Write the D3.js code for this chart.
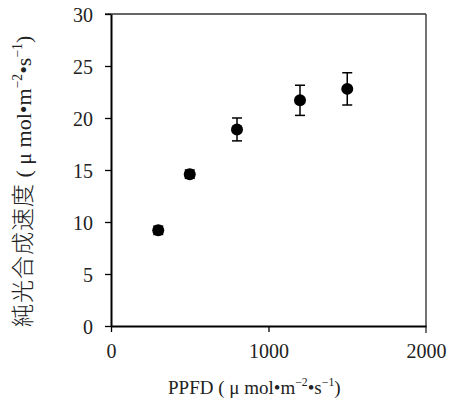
<!DOCTYPE html>
<html>
<head>
<meta charset="utf-8">
<script src="https://cdn.jsdelivr.net/npm/d3@7"></script>
<style>
  body { margin: 0; background: #fff; }
  text { font-family: "Liberation Serif", "DejaVu Serif", "Noto Sans CJK JP", serif; fill: #222; }
</style>
</head>
<body>
<div id="chart"></div>
<script>
// PPFD (x) vs net photosynthesis rate (y), mean with error bars
const ppfd = [300, 500, 800, 1200, 1500];
const rate = [9.2, 14.6, 18.9, 21.7, 22.8];
const err = [0.4, 0.4, 1.1, 1.45, 1.55];
const xTicks = [0, 1000, 2000];
const yTicks = [0, 5, 10, 15, 20, 25, 30];

const W = 449, H = 409;
const margin = { top: 14, right: 23, bottom: 83, left: 111 };

const svg = d3.select("#chart").append("svg")
  .attr("width", W).attr("height", H);

const x = d3.scaleLinear().domain([0, 2000]).range([margin.left, W - margin.right]);
const y = d3.scaleLinear().domain([0, 30]).range([H - margin.bottom, margin.top]);

// frame: top and right (gray)
svg.append("line")
  .attr("x1", x(0) - 6).attr("x2", x(2000))
  .attr("y1", y(30)).attr("y2", y(30))
  .attr("stroke", "#333").attr("stroke-width", 1.5);
svg.append("line")
  .attr("x1", x(2000)).attr("x2", x(2000))
  .attr("y1", y(30)).attr("y2", y(0) + 7)
  .attr("stroke", "#444").attr("stroke-width", 1.5);

// y axis
const yAxis = svg.append("g")
  .attr("transform", "translate(" + x(0) + ",0)")
  .call(d3.axisLeft(y).tickValues(yTicks).tickSize(6).tickPadding(12).tickSizeOuter(0));
yAxis.select(".domain").attr("stroke", "#000").attr("stroke-width", 2);
yAxis.selectAll(".tick line").attr("stroke", "#000").attr("stroke-width", 1.3);
yAxis.selectAll("text").attr("font-size", 20).attr("dy", "0.35em");

// x axis
const xAxis = svg.append("g")
  .attr("transform", "translate(0," + y(0) + ")")
  .call(d3.axisBottom(x).tickValues(xTicks).tickFormat(d3.format("d"))
    .tickSize(6).tickPadding(12).tickSizeOuter(0));
xAxis.select(".domain").attr("stroke", "#000").attr("stroke-width", 2);
xAxis.selectAll(".tick line").attr("stroke", "#000").attr("stroke-width", 1.3);
xAxis.selectAll(".tick").filter(d => d === 2000).select("line").attr("stroke", "none");
xAxis.selectAll("text").attr("font-size", 20);
svg.selectAll(".tick text").attr("fill", "#222");

// error bars
const data = ppfd.map((p, i) => ({ p: p, v: rate[i], e: err[i] }));
const eb = svg.append("g").attr("stroke", "#000").attr("stroke-width", 1.5);
data.forEach(d => {
  eb.append("line").attr("x1", x(d.p)).attr("x2", x(d.p)).attr("y1", y(d.v - d.e)).attr("y2", y(d.v + d.e));
  eb.append("line").attr("x1", x(d.p) - 5).attr("x2", x(d.p) + 5).attr("y1", y(d.v - d.e)).attr("y2", y(d.v - d.e));
  eb.append("line").attr("x1", x(d.p) - 5).attr("x2", x(d.p) + 5).attr("y1", y(d.v + d.e)).attr("y2", y(d.v + d.e));
});

// points
svg.append("g").selectAll("circle")
  .data(data).enter().append("circle")
  .attr("cx", d => x(d.p)).attr("cy", d => y(d.v))
  .attr("r", 6).attr("fill", "#000");

// units part of the axis titles
function units(t, fs) {
  t.append("tspan").text(" ( μ mol•m");
  t.append("tspan").attr("font-size", fs * 0.62).attr("dy", -fs * 0.4).text("−2");
  t.append("tspan").attr("dy", fs * 0.4).text("•s");
  t.append("tspan").attr("font-size", fs * 0.62).attr("dy", -fs * 0.4).text("−1");
  t.append("tspan").attr("dy", fs * 0.4).text(")");
}

// x label
const xl = svg.append("text")
  .attr("x", 168).attr("y", 394)
  .attr("text-anchor", "start").attr("font-size", 19);
xl.append("tspan").text("PPFD");
units(xl, 19);

// y label
const yl = svg.append("text")
  .attr("transform", "translate(31,327) rotate(-90)")
  .attr("text-anchor", "start").attr("font-size", 22);
yl.append("tspan").attr("font-size", 23).attr("font-weight", 300).attr("letter-spacing", 1).text("純光合成速度");
units(yl, 22);
</script>
</body>
</html>
